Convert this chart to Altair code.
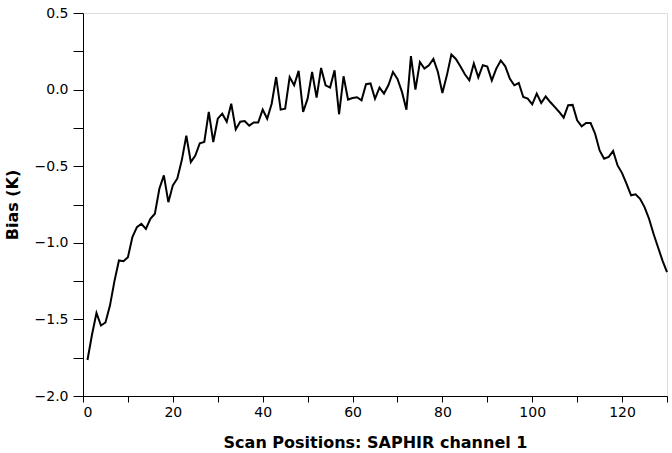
import altair as alt
import pandas as pd

scan_pos = list(range(1, 131))
bias = [
    -1.765, -1.60, -1.458, -1.54, -1.52, -1.41, -1.25, -1.115, -1.12, -1.094,
    -0.963, -0.898, -0.876, -0.909, -0.843, -0.81, -0.647, -0.56, -0.735, -0.625,
    -0.58, -0.46, -0.30, -0.473, -0.43, -0.35, -0.342, -0.146, -0.342, -0.19,
    -0.157, -0.21, -0.092, -0.26, -0.21, -0.205, -0.235, -0.215, -0.215, -0.131,
    -0.19, -0.092, 0.082, -0.131, -0.125, 0.082, 0.028, 0.122, -0.146, -0.059,
    0.115, -0.052, 0.141, 0.028, 0.013, 0.126, -0.161, 0.087, -0.065, -0.055,
    -0.05, -0.07, 0.035, 0.04, -0.06, 0.013, -0.026, 0.03, 0.115, 0.07,
    -0.015, -0.131, 0.218, 0.0, 0.18, 0.137, 0.159, 0.2, 0.115, -0.022,
    0.093, 0.229, 0.2, 0.152, 0.1, 0.061, 0.17, 0.08, 0.159, 0.15,
    0.06, 0.137, 0.19, 0.152, 0.072, 0.028, 0.043, -0.048, -0.059, -0.096,
    -0.026, -0.087, -0.045, -0.081, -0.113, -0.146, -0.183, -0.102, -0.1, -0.2,
    -0.24, -0.218, -0.218, -0.288, -0.397, -0.451, -0.44, -0.401, -0.495, -0.545,
    -0.615, -0.69, -0.684, -0.713, -0.767, -0.843, -0.941, -1.029, -1.116, -1.192,
]

x_ticks = list(range(0, 131, 10))
y_ticks = [-2.0, -1.75, -1.5, -1.25, -1.0, -0.75, -0.5, -0.25, 0.0, 0.25, 0.5]

df = pd.DataFrame({"pos": scan_pos, "bias": bias})

FONT = "DejaVu Sans"

chart = (
    alt.Chart(df)
    .mark_line(color="black", strokeWidth=2)
    .encode(
        x=alt.X(
            "pos:Q",
            scale=alt.Scale(domain=[0, 130], nice=False, zero=False),
            axis=alt.Axis(
                title="Scan Positions: SAPHIR channel 1",
                values=x_ticks,
                labelExpr="datum.value % 20 == 0 ? datum.value : ''",
                grid=False,
                tickSize=6,
                tickColor="black",
                domainColor="black",
                labelFont=FONT,
                labelFontSize=14,
                labelColor="black",
                labelPadding=3,
                titleFont=FONT,
                titleFontSize=16,
                titleFontWeight="bold",
                titleColor="black",
                titlePadding=15,
            ),
        ),
        y=alt.Y(
            "bias:Q",
            scale=alt.Scale(domain=[-2.0, 0.5], nice=False, zero=False),
            axis=alt.Axis(
                title="Bias (K)",
                values=y_ticks,
                labelExpr="abs(datum.value * 2 - round(datum.value * 2)) < 0.001 ? format(datum.value, '.1f') : ''",
                grid=False,
                tickSize=10,
                tickColor="black",
                domainColor="black",
                labelFont=FONT,
                labelFontSize=14,
                labelColor="black",
                labelPadding=5,
                titleFont=FONT,
                titleFontSize=16,
                titleFontWeight="bold",
                titleColor="black",
                titlePadding=14,
            ),
        ),
    )
    .properties(
        width=584,
        height=383,
        autosize=alt.AutoSizeParams(type="none"),
        padding={"left": 83, "top": 13, "right": 5, "bottom": 57},
    )
    .configure_view(stroke="black", strokeWidth=1)
    .configure(background="white")
)

chart.save("out.html", embed_options={"renderer": "svg", "actions": False})
